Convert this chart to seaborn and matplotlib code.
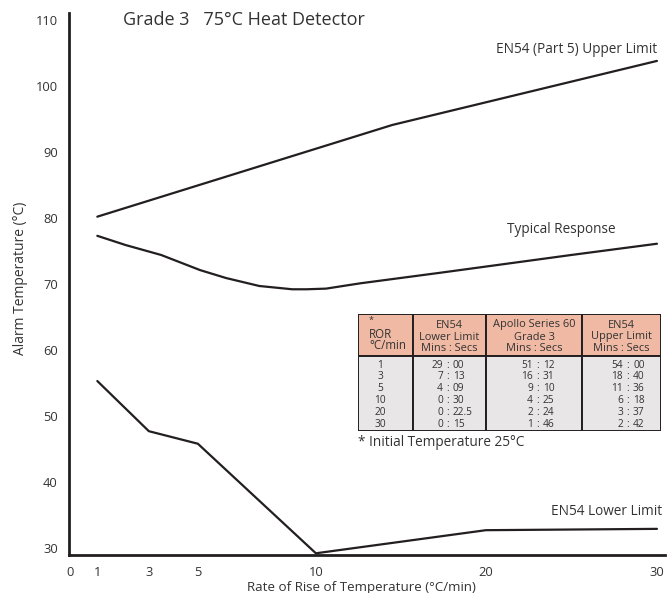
import numpy as np
import matplotlib.pyplot as plt
import seaborn as sns
from matplotlib.patches import Rectangle

# values: rate of rise (deg C/min) vs alarm temperature (deg C)
upper_ror = [1, 14.5, 30]
upper_temp = [80.2, 94.1, 103.8]

typical_ror = [1, 2.1, 3.5, 5.1, 6.2, 7.6, 9, 9.6, 10.6, 12.6, 17.3, 25, 30]
typical_temp = [77.3, 75.9, 74.4, 72.1, 70.9, 69.7, 69.2, 69.2, 69.3, 70.1, 71.7, 74.4, 76.1]

lower_ror = [1, 3, 5, 10, 20, 30]
lower_temp = [55.3, 47.7, 45.8, 29.2, 32.7, 32.9]

x_ticks = [0, 1, 3, 5, 10, 20, 30]
y_ticks = [30, 40, 50, 60, 70, 80, 90, 100, 110]

# table contents
ror_rows = [1, 3, 5, 10, 20, 30]
en54_lower_times = ["29 : 00", "7 : 13", "4 : 09", "0 : 30", "0 : 22.5", "0 : 15"]
apollo_times = ["51 : 12", "16 : 31", "9 : 10", "4 : 25", "2 : 24", "1 : 46"]
en54_upper_times = ["54 : 00", "18 : 40", "11 : 36", "6 : 18", "3 : 37", "2 : 42"]
headers = [["EN54", "Lower Limit", "Mins : Secs"],
           ["Apollo Series 60", "Grade 3", "Mins : Secs"],
           ["EN54", "Upper Limit", "Mins : Secs"]]

INK = "#231F20"
TXT = "#333333"

sns.set_theme(style="white")
plt.rcParams["font.family"] = ["Open Sans", "DejaVu Sans"]

W, H = 669, 593
fig = plt.figure(figsize=(W / 100, H / 100), dpi=100)
ax = fig.add_axes([69 / W, (H - 555) / H, 596 / W, 542 / H])

# the x axis of the original is stretched at the low end
knots = np.array([-10.0, 0, 1, 3, 5, 10, 20, 30, 40])
spots = np.array([-205.0, 0, 27.5, 79, 128, 246, 416, 587, 758])


def stretch(v):
    return np.interp(np.asarray(v, dtype=float), knots, spots)


def unstretch(p):
    return np.interp(np.asarray(p, dtype=float), spots, knots)


ax.set_xscale("function", functions=(stretch, unstretch))

for xs, ys in [(upper_ror, upper_temp), (typical_ror, typical_temp), (lower_ror, lower_temp)]:
    sns.lineplot(x=xs, y=ys, ax=ax, color=INK, linewidth=1.6)

ax.set_xlim(-0.04, 30.47)
ax.set_ylim(28.94, 111.06)
ax.set_xticks(x_ticks)
ax.set_xticklabels([str(t) for t in x_ticks])
ax.set_yticks(y_ticks)
ax.tick_params(axis="both", length=0, labelsize=9.3, labelcolor=TXT)
ax.tick_params(axis="x", pad=8)
ax.tick_params(axis="y", pad=8)
for s in ["top", "right"]:
    ax.spines[s].set_visible(False)
for s in ["left", "bottom"]:
    ax.spines[s].set_color(INK)
    ax.spines[s].set_linewidth(2)

ax.set_ylabel("Alarm Temperature (°C)", fontsize=10, color=TXT)
ax.yaxis.set_label_coords(-0.082, 0.511)
ax.yaxis.label.set_va("center")
fig.text(361 / W, 1 - 587 / H, "Rate of Rise of Temperature (°C/min)", ha="center", va="center",
         fontsize=9.6, color=TXT)

ax.text(30.0, 105.5, "EN54 (Part 5) Upper Limit", ha="right", va="center", fontsize=9.8, color=TXT)
ax.text(24.4, 78.3, "Typical Response", ha="center", va="center", fontsize=9.8, color=TXT)
ax.text(30.3, 35.6, "EN54 Lower Limit", ha="right", va="center", fontsize=9.8, color=TXT)

fig.text(123 / W, 1 - 20 / H, "Grade 3   75°C Heat Detector", ha="left", va="center",
         fontsize=13, color=TXT)

# table inset, laid out in pixel units
x0, x1, y0, ym, y1 = 358, 661, 314, 356, 431
tab = fig.add_axes([x0 / W, 1 - y1 / H, (x1 - x0) / W, (y1 - y0) / H])
tab.set_xlim(x0, x1)
tab.set_ylim(y1, y0)
tab.axis("off")
cols = [358, 413, 486, 582, 661]
for a, b in zip(cols[:-1], cols[1:]):
    tab.add_patch(Rectangle((a, y0), b - a, ym - y0, facecolor="#EFB9A4", edgecolor=INK, lw=1.4))
    tab.add_patch(Rectangle((a, ym), b - a, y1 - ym, facecolor="#E9E6E7", edgecolor=INK, lw=1.4))

tab.text(369, 320, "*", ha="left", va="center", fontsize=6.5, color=TXT)
tab.text(369, 334, "ROR", ha="left", va="center", fontsize=8.3, color=TXT)
tab.text(369, 345.7, "°C/min", ha="left", va="center", fontsize=8.3, color=TXT)
for (a, b), lines in zip(zip(cols[1:-1], cols[2:]), headers):
    for ly, line in zip([325, 337, 348.5], lines):
        tab.text((a + b) / 2, ly, line, ha="center", va="center", fontsize=7.9, color=TXT)

row_y = [365 + 11.9 * i for i in range(len(ror_rows))]
for ry, r in zip(row_y, ror_rows):
    tab.text(380, ry, str(r), ha="center", va="center", fontsize=7.3, color=TXT)
for colon_x, times in zip([448, 538, 628], [en54_lower_times, apollo_times, en54_upper_times]):
    for ry, t in zip(row_y, times):
        m, s = t.split(" : ")
        tab.text(colon_x - 5, ry, m, ha="right", va="center", fontsize=7.3, color=TXT)
        tab.text(colon_x, ry, ":", ha="center", va="center", fontsize=7.3, color=TXT)
        tab.text(colon_x + 5, ry, s, ha="left", va="center", fontsize=7.3, color=TXT)

fig.text(358 / W, 1 - 442 / H, "* Initial Temperature 25°C", ha="left", va="center",
         fontsize=9.8, color=TXT)

fig.savefig("out.png", dpi=100)
plt.close(fig)
